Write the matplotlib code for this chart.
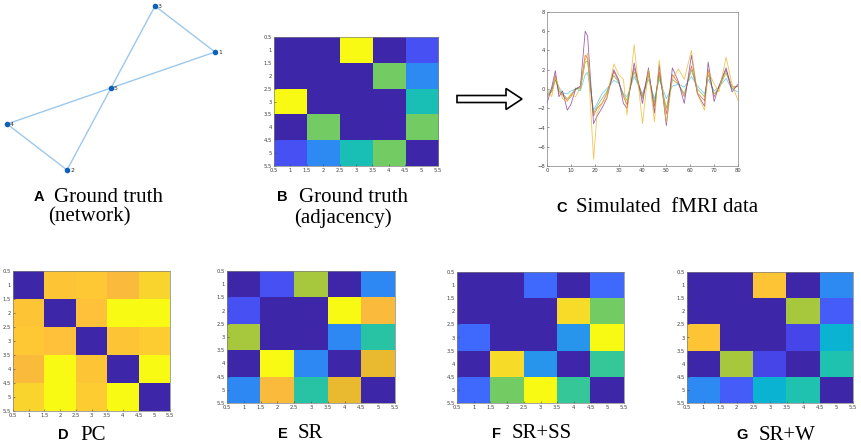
import numpy as np
import matplotlib
matplotlib.use('Agg')
import matplotlib.pyplot as plt
from matplotlib.colors import LinearSegmentedColormap
from matplotlib.patches import FancyArrow

# parula (MATLAB) anchor entries: (index out of 64, rgb)
parula_pts = [(1, (0.2422, 0.1504, 0.6603)), (5, (0.2706, 0.2147, 0.8364)), (9, (0.2813, 0.3006, 0.9414)),
              (13, (0.2699, 0.3892, 0.9906)), (17, (0.1963, 0.4847, 0.9892)), (21, (0.1687, 0.5703, 0.9359)),
              (25, (0.1248, 0.6459, 0.8883)), (29, (0.0297, 0.7082, 0.8163)), (33, (0.0964, 0.7500, 0.7120)),
              (37, (0.2161, 0.7843, 0.5923)), (41, (0.3909, 0.8029, 0.4354)), (43, (0.5044, 0.7993, 0.3480)),
              (45, (0.6174, 0.7876, 0.2612)), (47, (0.7242, 0.7698, 0.1910)), (49, (0.8203, 0.7498, 0.1535)),
              (51, (0.9035, 0.7330, 0.1774)), (53, (0.9728, 0.7298, 0.2394)), (54, (0.9956, 0.7434, 0.2371)),
              (55, (0.9970, 0.7659, 0.2199)), (57, (0.9892, 0.8136, 0.1885)), (59, (0.9676, 0.8639, 0.1643)),
              (61, (0.9597, 0.9135, 0.1423)), (64, (0.9769, 0.9839, 0.0805))]
parula = LinearSegmentedColormap.from_list('parula', [((i - 1) / 63, c) for i, c in parula_pts])

# network layout (A)
node_names = ['1', '2', '3', '4', '5']
node_x = [215, 67, 155, 7, 111]
node_y = [52, 170, 6, 124, 88]
edges = [(1, 3), (1, 5), (2, 4), (2, 5), (3, 5), (4, 5)]

# adjacency / estimated networks
truth = [[0, 0, 1, 0, 0.14],
         [0, 0, 0, 0.65, 0.3],
         [1, 0, 0, 0, 0.51],
         [0, 0.65, 0, 0, 0.65],
         [0.14, 0.3, 0.51, 0.65, 0]]
pc = [[0, 0.86, 0.87, 0.83, 0.9],
      [0.86, 0, 0.85, 1.0, 1.0],
      [0.87, 0.85, 0, 0.86, 0.88],
      [0.83, 1.0, 0.86, 0, 1.0],
      [0.9, 1.0, 0.88, 1.0, 0]]
sr = [[0, 0.14, 0.71, 0, 0.29],
      [0.14, 0, 0, 1.0, 0.83],
      [0.71, 0, 0, 0.29, 0.54],
      [0, 1.0, 0.29, 0, 0.8],
      [0.29, 0.83, 0.54, 0.8, 0]]
sr_ss = [[0, 0, 0.21, 0, 0.21],
         [0, 0, 0, 0.92, 0.65],
         [0.21, 0, 0, 0.33, 1.0],
         [0, 0.92, 0.33, 0, 0.57],
         [0.21, 0.65, 1.0, 0.57, 0]]
sr_w = [[0, 0, 0.86, 0, 0.3],
        [0, 0, 0, 0.71, 0.175],
        [0.86, 0, 0, 0.11, 0.44],
        [0, 0.71, 0.11, 0, 0.52],
        [0.3, 0.175, 0.44, 0.52, 0]]

# simulated fMRI series (C)
t = [0, 2, 3.5, 5, 6.5, 8.5, 10, 12, 14, 16, 17, 19.5, 21, 23, 25, 28, 30, 32, 33.5, 36.5,
     40, 42.5, 45, 47, 50, 52.5, 55, 57.5, 60.5, 63, 66, 67.5, 70, 72, 75, 77.5, 80]
s_blue = [-0.5, 0, 0.9, 0.2, -0.4, -0.5, -0.2, 0, -0.2, 1.5, 1.7, -2.2, -1.5, -0.5, 0, 0.9, 0.6, -0.5, -0.8, 1.3,
          -0.5, 1.0, -1.0, 1.0, -1.0, 0.3, 0.5, 0.2, 1.3, 0.3, -0.5, 1.0, -0.2, 0.2, 1.1, 0, -0.3]
s_orange = [-0.8, -0.2, 1.4, -0.4, -0.6, -1.2, -0.8, 0, 0.2, 3.5, 3.2, -2.8, -2.0, -1.5, -0.5, 1.8, 0.8, -0.8, -1.6, 2.2,
            -0.8, 1.8, -1.8, 1.8, -2.6, 1.5, 0.6, -0.8, 2.4, -0.4, -1.2, 2.0, -0.8, 0.2, 2.0, 0.2, 0.3]
s_green = [-0.6, -0.3, 1.0, -0.2, -0.5, -1.0, -0.6, 0.1, 0, 2.8, 2.9, -2.5, -1.8, -1.0, -0.3, 1.4, 0.7, -0.6, -1.2, 1.8,
           -1.0, 1.4, -1.4, 1.4, -2.0, 1.0, 0.5, -0.5, 2.0, 0, -0.8, 1.5, -0.5, 0.1, 1.7, 0, 0.3]
s_purple = [-1.5, 0.2, 1.9, -0.8, -0.2, -2.2, -1.6, 0, 0.3, 6.0, 5.5, -3.6, -2.8, -2.0, -1.0, 2.0, 1.0, -1.5, -2.0, 2.7,
            -1.5, 2.2, -2.5, 2.5, -3.8, 2.2, 0.8, -1.5, 3.5, -0.5, -1.8, 2.8, -1.3, 0.3, 2.2, -0.3, 0.5]
s_yellow = [0.2, -0.8, 1.2, 0.2, -1.0, -1.3, -0.5, -0.8, 0.2, 3.0, 3.7, -7.3, -2.5, -1.5, -1.0, 2.6, 1.5, 1.0, -2.7, 4.6,
            -3.6, 2.0, -3.4, 3.0, -3.5, 1.0, 2.1, 1.0, 4.0, -0.5, -2.2, 1.9, 0.5, -0.3, 3.3, 0.5, -1.2]

W, H = 861, 448
fig = plt.figure(figsize=(W / 100, H / 100), dpi=100)


def px_axes(l, t_, r, b):
    return fig.add_axes([l / W, 1 - b / H, (r - l) / W, (b - t_) / H])


def style_ticks(ax):
    ax.tick_params(labelsize=3.8, length=1.5, width=0.4, direction='in', colors='#404040', pad=1.5)
    for sp in ax.spines.values():
        sp.set_linewidth(0.5)
        sp.set_color('#808080')


def heat(ax, mat):
    ax.imshow(np.array(mat), cmap=parula, vmin=0, vmax=1, extent=(0.5, 5.5, 5.5, 0.5),
              aspect='auto', interpolation='nearest')
    ticks = np.arange(0.5, 5.6, 0.5)
    labels = ['%g' % v for v in ticks]
    ax.set_xticks(ticks)
    ax.set_xticklabels(labels)
    ax.set_yticks(ticks)
    ax.set_yticklabels(labels)
    style_ticks(ax)


# A: network
axA = px_axes(0, 0, 230, 180)
for a, b in edges:
    axA.plot([node_x[a - 1], node_x[b - 1]], [node_y[a - 1], node_y[b - 1]],
             color='#9cc8ec', lw=1.0, zorder=1)
axA.scatter(node_x, node_y, s=9, color='#0b62b8', zorder=2)
for n, x, y in zip(node_names, node_x, node_y):
    axA.text(x + 3, y, n, fontsize=4.5, va='center', ha='left', color='#303030')
axA.set_xlim(0, 230)
axA.set_ylim(180, 0)
axA.axis('off')

# B: adjacency
heat(px_axes(274, 37, 438, 166), truth)

# C: time series
axC = px_axes(547, 12, 738, 166)
for s, c in zip([s_blue, s_orange, s_green, s_purple, s_yellow],
                ['#4dbeee', '#d95319', '#77ac30', '#7e2f8e', '#edb120']):
    axC.plot(t, s, color=c, lw=0.6, alpha=0.75)
axC.set_xlim(0, 80)
axC.set_ylim(-8, 8)
axC.set_xticks(range(0, 81, 10))
axC.set_yticks(range(-8, 9, 2))
style_ticks(axC)

# bottom row
heat(px_axes(13, 271, 170, 411), pc)
heat(px_axes(227, 271, 395, 403), sr)
heat(px_axes(457, 272, 624, 403), sr_ss)
heat(px_axes(687, 272, 853, 403), sr_w)

# overlay for labels and arrow
ov = fig.add_axes([0, 0, 1, 1])
ov.set_xlim(0, W)
ov.set_ylim(H, 0)
ov.axis('off')
ov.add_patch(FancyArrow(457, 99, 65, 0, width=7, head_width=21, head_length=16,
                        length_includes_head=True, fc='white', ec='black', lw=1.2))

serif = 'Liberation Serif'
labels = [('A', 44, 'Ground truth', 54, 197), ('B', 288, 'Ground truth', 299, 197),
          ('C', 567, 'Simulated  fMRI data', 576, 208), ('D', 69, 'PC', 80, 435),
          ('E', 288, 'SR', 298, 434), ('F', 501, 'SR+SS', 512, 434), ('G', 748, 'SR+W', 759, 435)]
for letter, lx, txt, tx, y in labels:
    ov.text(lx, y, letter, fontsize=10.5, fontweight='bold', family='Liberation Sans',
            ha='right', va='center')
    ov.text(tx, y, txt, fontsize=15, family=serif, ha='left', va='center')
ov.text(48, 217, '(network)', fontsize=15, family=serif, ha='left', va='center')
ov.text(294, 218, '(adjacency)', fontsize=15, family=serif, ha='left', va='center')

fig.savefig('out.png', dpi=100)
